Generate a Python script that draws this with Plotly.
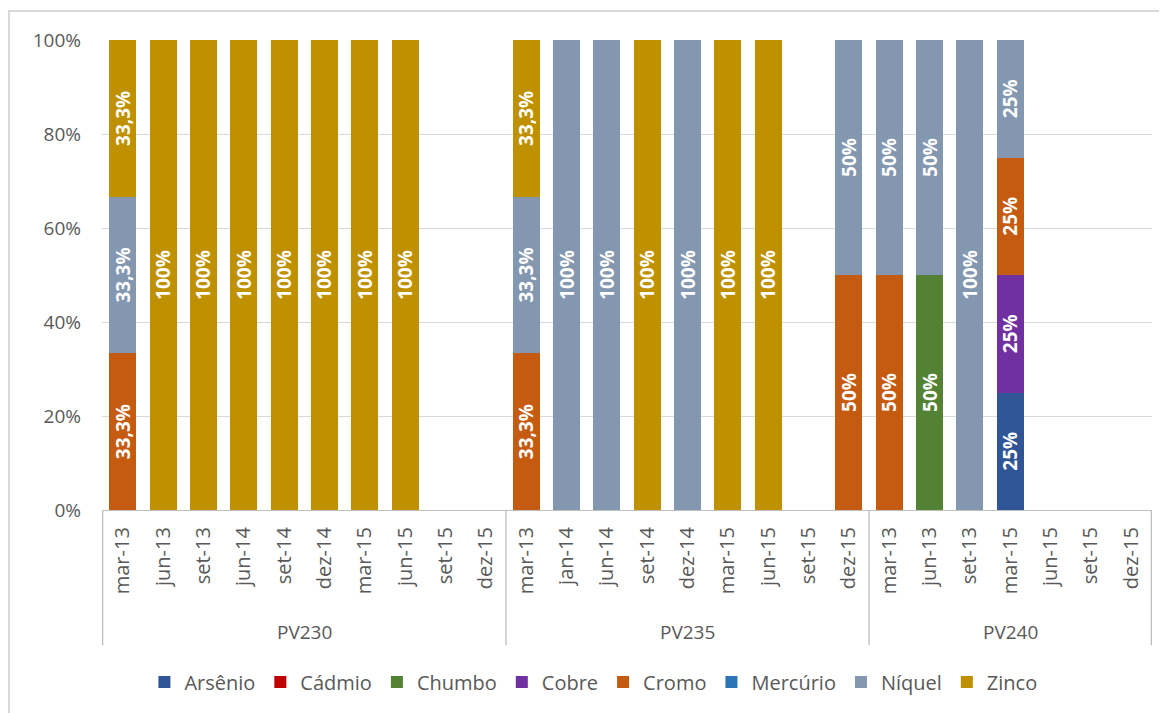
import plotly.graph_objects as go

# categories (two-level axis)
groups = ["PV230"] * 10 + ["PV235"] * 9 + ["PV240"] * 7
dates = [
    "mar-13", "jun-13", "set-13", "jun-14", "set-14", "dez-14", "mar-15", "jun-15", "set-15", "dez-15",
    "mar-13", "jan-14", "jun-14", "set-14", "dez-14", "mar-15", "jun-15", "set-15", "dez-15",
    "mar-13", "jun-13", "set-13", "mar-15", "jun-15", "set-15", "dez-15",
]

# percentage of each metal per campaign (None = absent)
_ = None
arsenio = [_] * 10 + [_] * 9 + [_, _, _, 25, _, _, _]
cadmio = [_] * 26
chumbo = [_] * 10 + [_] * 9 + [_, 50, _, _, _, _, _]
cobre = [_] * 10 + [_] * 9 + [_, _, _, 25, _, _, _]
cromo = [33.3, _, _, _, _, _, _, _, _, _] + [33.3, _, _, _, _, _, _, _, 50] + [50, _, _, 25, _, _, _]
mercurio = [_] * 26
niquel = [33.3, _, _, _, _, _, _, _, _, _] + [33.3, 100, 100, _, 100, _, _, _, 50] + [50, 50, 100, 25, _, _, _]
zinco = [33.3, 100, 100, 100, 100, 100, 100, 100, _, _] + [33.3, _, _, 100, _, 100, 100, _, _] + [_] * 7

series = [
    ("Arsênio", arsenio, "#2F5597"),
    ("Cádmio", cadmio, "#C00000"),
    ("Chumbo", chumbo, "#548235"),
    ("Cobre", cobre, "#7030A0"),
    ("Cromo", cromo, "#C55A11"),
    ("Mercúrio", mercurio, "#2E75B6"),
    ("Níquel", niquel, "#8497B0"),
    ("Zinco", zinco, "#BF9000"),
]

FONT = "'Open Sans', sans-serif"
GREY = "#595959"
LINE = "#bfbfbf"


def label(v):
    if v is None:
        return ""
    return f"{v:g}".replace(".", ",") + "%"


# unique category keys so repeated dates in different groups stay apart
keys = [f"{g}|{d}" for g, d in zip(groups, dates)]

fig = go.Figure()
for name, vals, color in series:
    fig.add_trace(go.Bar(
        x=keys,
        y=vals,
        name=name,
        marker_color=color,
        marker_line_width=0,
        text=[label(v) for v in vals],
        textposition="inside",
        insidetextanchor="middle",
        textangle=-90,
        constraintext="none",
        textfont=dict(color="white", size=19, family=FONT, weight="bold"),
        hoverinfo="name+y",
    ))

# group labels and dividers under the axis
annotations = []
shapes = []
start = 0
for i in range(1, len(groups) + 1):
    if i == len(groups) or groups[i] != groups[start]:
        annotations.append(dict(
            x=(start + i - 1) / 2, xref="x", y=-0.26, yref="paper",
            text=groups[start], showarrow=False, yanchor="middle",
            font=dict(size=19, color=GREY),
        ))
        shapes.append(dict(
            type="line", xref="x", yref="paper",
            x0=start - 0.5, x1=start - 0.5, y0=0, y1=-0.288,
            line=dict(color=LINE, width=1.3),
        ))
        start = i
shapes.append(dict(
    type="line", xref="x", yref="paper",
    x0=len(groups) - 0.5, x1=len(groups) - 0.5, y0=0, y1=-0.288,
    line=dict(color=LINE, width=1.3),
))
# chart-area border (only top and left fall inside the picture)
shapes.append(dict(
    type="rect", xref="paper", yref="paper",
    x0=-0.0886, x1=1.1, y0=-0.5, y1=1.0617,
    line=dict(color="#d9d9d9", width=2),
))

fig.update_layout(
    width=1159,
    height=705,
    barmode="stack",
    barnorm="percent",
    bargap=0.33,
    plot_bgcolor="white",
    paper_bgcolor="white",
    font=dict(family=FONT, color=GREY, size=17),
    margin=dict(l=94, r=15, t=32, b=203),
    legend=dict(
        orientation="h",
        x=0.468,
        xanchor="center",
        y=-0.366,
        yanchor="middle",
        font=dict(size=20, color=GREY),
        traceorder="normal",
    ),
    annotations=annotations,
    shapes=shapes,
)

fig.update_yaxes(
    range=[0, 100],
    dtick=20,
    ticksuffix="%",
    showgrid=True,
    gridcolor="#d9d9d9",
    gridwidth=1,
    zeroline=False,
    tickfont=dict(size=19, color=GREY),
    ticklabelstandoff=20,
    ticks="",
)

fig.update_xaxes(
    type="category",
    tickvals=keys,
    ticktext=dates,
    tickangle=-90,
    tickfont=dict(size=20, color=GREY),
    ticklabelstandoff=8,
    showline=True,
    linecolor=LINE,
    linewidth=1.3,
    showgrid=False,
    ticks="",
)

fig.write_html("out.html")
